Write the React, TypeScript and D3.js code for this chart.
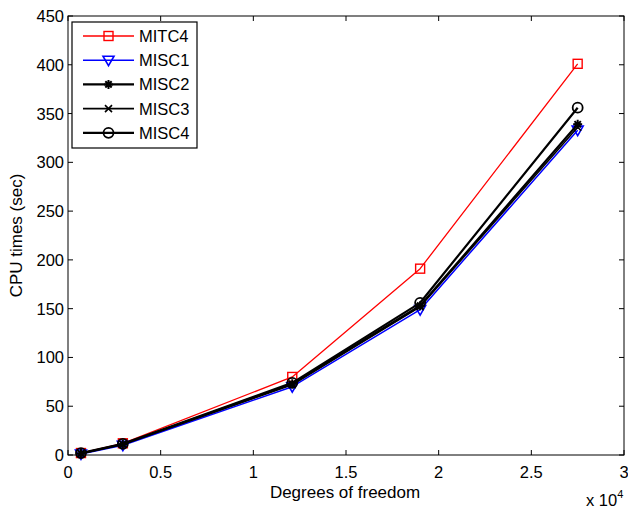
import { useEffect, useRef } from 'react';
import * as d3 from 'd3';

// degrees of freedom (x 10^4 on the axis)
const DOF = [700, 2960, 12100, 19000, 27500];

const MITC4 = [2, 12, 80, 191, 401];
const MISC1 = [1, 10, 70, 149, 333];
const MISC2 = [1.5, 11, 73, 153, 339];
const MISC3 = [1.5, 11, 72, 152, 336];
const MISC4 = [2, 11.5, 74, 156, 356];

const SERIES = [
  { name: 'MITC4', values: MITC4, color: '#ff0000', width: 1.3, marker: 'square' },
  { name: 'MISC1', values: MISC1, color: '#0000ff', width: 1.5, marker: 'triangle' },
  { name: 'MISC2', values: MISC2, color: '#000000', width: 2.2, marker: 'star' },
  { name: 'MISC3', values: MISC3, color: '#000000', width: 1.6, marker: 'x' },
  { name: 'MISC4', values: MISC4, color: '#000000', width: 2.2, marker: 'circle' },
];

const X_TICKS = [0, 0.5, 1, 1.5, 2, 2.5, 3];
const Y_TICKS = [0, 50, 100, 150, 200, 250, 300, 350, 400, 450];

const FONT = 'Liberation Sans, Arial, Helvetica, sans-serif';
const FS = 16.5;

function drawMarker(g: any, type: string, x: number, y: number, color: string) {
  const s = 4.5;
  if (type === 'square') {
    g.append('rect').attr('x', x - s).attr('y', y - s).attr('width', 2 * s).attr('height', 2 * s)
      .attr('fill', 'none').attr('stroke', color).attr('stroke-width', 1.4);
  } else if (type === 'triangle') {
    g.append('path').attr('d', `M${x - 5.5},${y - 4}L${x + 5.5},${y - 4}L${x},${y + 5.5}Z`)
      .attr('fill', 'none').attr('stroke', color).attr('stroke-width', 1.6);
  } else if (type === 'star') {
    const r = 4.5;
    const p = [0, 45, 90, 135].map(a => {
      const t = (a * Math.PI) / 180;
      return `M${x - r * Math.cos(t)},${y - r * Math.sin(t)}L${x + r * Math.cos(t)},${y + r * Math.sin(t)}`;
    }).join('');
    g.append('path').attr('d', p).attr('stroke', color).attr('stroke-width', 2);
  } else if (type === 'x') {
    const r = 3.5;
    g.append('path').attr('d', `M${x - r},${y - r}L${x + r},${y + r}M${x - r},${y + r}L${x + r},${y - r}`)
      .attr('stroke', color).attr('stroke-width', 1.6);
  } else if (type === 'circle') {
    g.append('circle').attr('cx', x).attr('cy', y).attr('r', 5)
      .attr('fill', 'none').attr('stroke', color).attr('stroke-width', 1.8);
  }
}

export default function App() {
  const svgRef = useRef<SVGSVGElement>(null);

  useEffect(() => {
    if (!svgRef.current) return;
    const W = 628;
    const H = 512;
    const M = { top: 16, right: 4, bottom: 57, left: 68 };

    const svg = d3.select(svgRef.current);
    svg.selectAll('*').remove();
    svg.attr('width', W).attr('height', H);
    svg.append('rect').attr('width', W).attr('height', H).attr('fill', '#fff');

    const x = d3.scaleLinear().domain([0, 30000]).range([M.left, W - M.right]);
    const y = d3.scaleLinear().domain([0, 450]).range([H - M.bottom, M.top]);

    const x0 = M.left, x1 = W - M.right, y0 = H - M.bottom, y1 = M.top;

    // ticks (inside, on both sides like MATLAB)
    const tk = svg.append('g').attr('stroke', '#000').attr('stroke-width', 1);
    X_TICKS.forEach(t => {
      const px = x(t * 1e4);
      tk.append('line').attr('x1', px).attr('x2', px).attr('y1', y0).attr('y2', y0 - 5);
      tk.append('line').attr('x1', px).attr('x2', px).attr('y1', y1).attr('y2', y1 + 5);
    });
    Y_TICKS.forEach(t => {
      const py = y(t);
      tk.append('line').attr('x1', x0).attr('x2', x0 + 5).attr('y1', py).attr('y2', py);
      tk.append('line').attr('x1', x1).attr('x2', x1 - 5).attr('y1', py).attr('y2', py);
    });

    // tick labels
    svg.append('g').selectAll('text').data(X_TICKS).join('text')
      .attr('x', d => x(d * 1e4)).attr('y', y0 + 23)
      .attr('text-anchor', 'middle').attr('font-family', FONT).attr('font-size', FS)
      .text(d => String(d));
    svg.append('g').selectAll('text').data(Y_TICKS).join('text')
      .attr('x', x0 - 4).attr('y', d => y(d) + 6)
      .attr('text-anchor', 'end').attr('font-family', FONT).attr('font-size', FS)
      .text(d => String(d));

    // axis labels
    svg.append('text').attr('x', (x0 + x1) / 2 - 1).attr('y', 498)
      .attr('text-anchor', 'middle').attr('font-family', FONT).attr('font-size', 17)
      .text('Degrees of freedom');
    svg.append('text').attr('transform', `translate(22,${(y0 + y1) / 2}) rotate(-90)`)
      .attr('text-anchor', 'middle').attr('font-family', FONT).attr('font-size', 17)
      .text('CPU times (sec)');
    const ex = svg.append('text').attr('x', 586).attr('y', 506)
      .attr('font-family', FONT).attr('font-size', FS);
    ex.append('tspan').text('x 10');
    ex.append('tspan').attr('dy', -8).attr('font-size', 11).text('4');

    // series
    const line = d3.line<[number, number]>().x(d => x(d[0])).y(d => y(d[1]));
    SERIES.forEach(s => {
      const pts = DOF.map((d, i) => [d, s.values[i]] as [number, number]);
      const g = svg.append('g');
      g.append('path').attr('d', line(pts)).attr('fill', 'none')
        .attr('stroke', s.color).attr('stroke-width', s.width).attr('stroke-linejoin', 'round');
      pts.forEach(p => drawMarker(g, s.marker, x(p[0]), y(p[1]), s.color));
    });

    // frame
    svg.append('rect').attr('x', x0).attr('y', y1).attr('width', x1 - x0).attr('height', y0 - y1)
      .attr('fill', 'none').attr('stroke', '#000').attr('stroke-width', 1);

    // legend
    const lg = svg.append('g');
    lg.append('rect').attr('x', 72).attr('y', 22).attr('width', 125).attr('height', 126)
      .attr('fill', '#fff').attr('stroke', '#000').attr('stroke-width', 1.2);
    SERIES.forEach((s, i) => {
      const ly = 36 + i * 24.2;
      lg.append('line').attr('x1', 83).attr('x2', 134).attr('y1', ly).attr('y2', ly)
        .attr('stroke', s.color).attr('stroke-width', s.width);
      drawMarker(lg, s.marker, 108.5, ly, s.color);
      lg.append('text').attr('x', 139).attr('y', ly + 6).attr('font-family', FONT).attr('font-size', FS)
        .text(s.name);
    });
  }, []);

  return <svg ref={svgRef} style={{ display: 'block', position: 'absolute', left: 0, top: 0 }} />;
}
